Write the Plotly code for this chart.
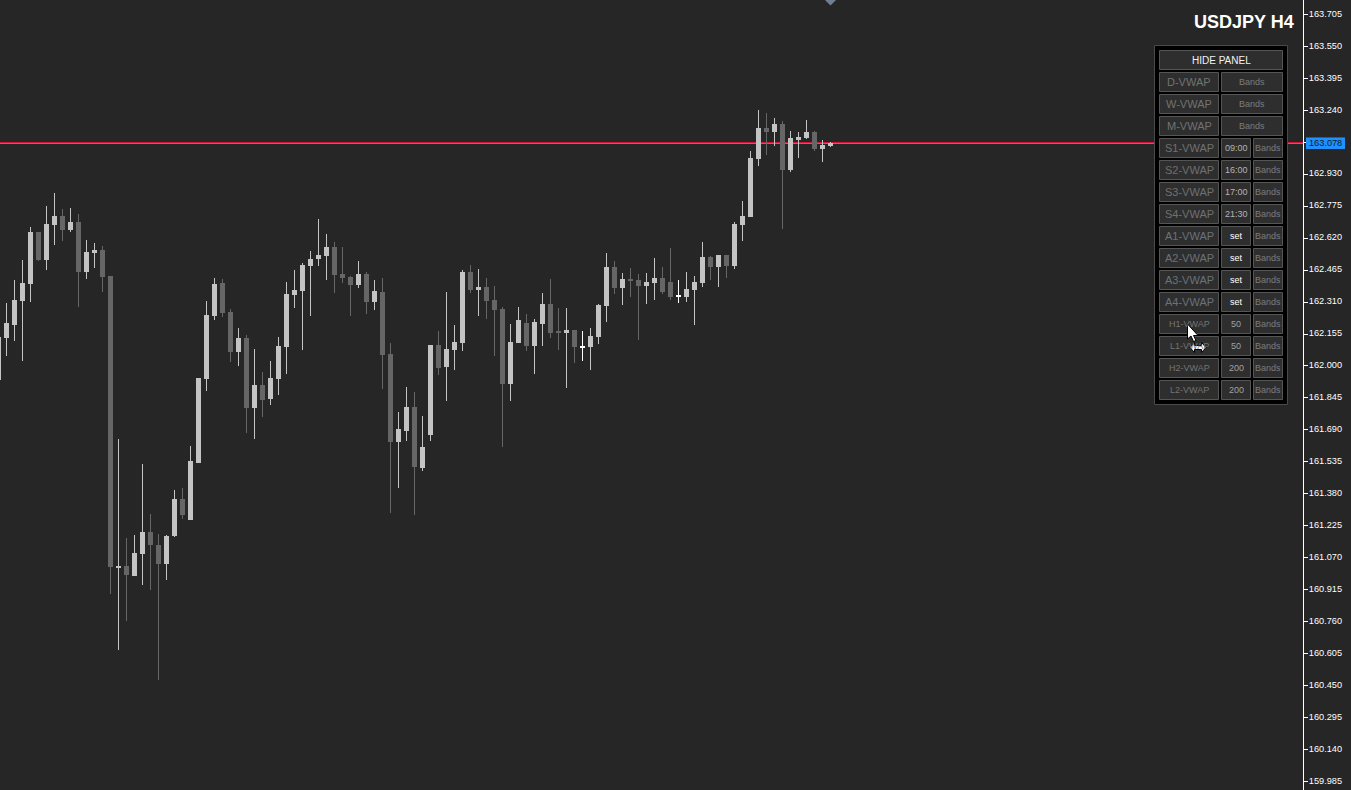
import plotly.graph_objects as go

symbol_title = "USDJPY H4"
last_price_label = "163.078"

price_ticks = [163.705, 163.550, 163.395, 163.240, 163.085, 162.930, 162.775, 162.620, 162.465,
               162.310, 162.155, 162.000, 161.845, 161.690, 161.535, 161.380, 161.225, 161.070,
               160.915, 160.760, 160.605, 160.450, 160.295, 160.140, 159.985]

ask_price = 163.084
bid_price = 163.079

high = [162.150, 162.305, 162.417, 162.514, 162.674, 162.650, 162.776, 162.839, 162.761, 162.766,
        162.737, 162.611, 162.596, 162.582, 162.437, 161.646, 161.166, 161.180, 161.525, 161.282,
        161.185, 161.180, 161.398, 161.408, 161.612, 161.942, 162.315, 162.427, 162.422, 162.276,
        162.184, 162.150, 162.082, 161.971, 162.024, 162.141, 162.407, 162.466, 162.499, 162.558,
        162.713, 162.640, 162.601, 162.577, 162.437, 162.509, 162.456, 162.417, 162.427, 162.112,
        161.777, 161.898, 161.874, 161.757, 162.102, 162.170, 162.359, 162.199, 162.466, 162.490,
        162.470, 162.427, 162.388, 162.286, 162.204, 162.286, 162.252, 162.228, 162.354, 162.422,
        162.281, 162.281, 162.175, 162.170, 162.184, 162.301, 162.548, 162.509, 162.451, 162.475,
        162.446, 162.451, 162.524, 162.480, 162.572, 162.417, 162.456, 162.437, 162.601, 162.534,
        162.538, 162.538, 162.698, 162.800, 163.043, 163.241, 163.227, 163.203, 163.188, 163.140,
        163.135, 163.193, 163.140, 163.096, 163.086]

low = [161.932, 162.048, 162.121, 162.024, 162.310, 162.509, 162.466, 162.587, 162.606, 162.650,
       162.286, 162.422, 162.475, 162.359, 160.894, 160.622, 160.763, 160.981, 160.938, 160.913,
       160.477, 160.962, 161.171, 161.258, 161.253, 161.529, 161.879, 162.223, 162.237, 162.019,
       162.000, 161.675, 161.646, 161.753, 161.811, 161.859, 161.961, 162.281, 162.077, 162.242,
       162.485, 162.417, 162.354, 162.402, 162.242, 162.378, 162.252, 162.271, 161.888, 161.287,
       161.408, 161.636, 161.277, 161.491, 161.636, 161.956, 161.830, 161.980, 162.073, 162.354,
       162.242, 162.228, 162.048, 161.607, 161.830, 162.112, 162.073, 161.961, 162.097, 162.136,
       162.077, 161.893, 162.014, 162.024, 161.980, 162.107, 162.213, 162.349, 162.296, 162.335,
       162.126, 162.301, 162.320, 162.349, 162.320, 162.305, 162.310, 162.199, 162.383, 162.417,
       162.383, 162.427, 162.470, 162.606, 162.723, 162.970, 163.023, 163.067, 162.664, 162.941,
       163.009, 163.101, 163.043, 162.989, 163.062]

open_ = [161.932, 162.136, 162.199, 162.315, 162.398, 162.650, 162.514, 162.684, 162.727, 162.659,
         162.698, 162.456, 162.548, 162.562, 162.437, 161.025, 161.030, 160.981, 161.088, 161.195,
         161.132, 161.040, 161.175, 161.355, 161.253, 161.529, 161.937, 162.242, 162.402, 162.262,
         162.068, 162.136, 161.796, 161.908, 161.840, 161.937, 162.092, 162.344, 162.364, 162.485,
         162.519, 162.534, 162.577, 162.446, 162.432, 162.393, 162.446, 162.310, 162.359, 162.058,
         161.631, 161.685, 161.801, 161.505, 161.665, 162.102, 161.995, 162.077, 162.112, 162.456,
         162.368, 162.383, 162.320, 162.276, 161.913, 162.112, 162.208, 162.097, 162.204, 162.301,
         162.165, 162.160, 162.175, 162.092, 162.092, 162.141, 162.291, 162.480, 162.378, 162.422,
         162.417, 162.388, 162.402, 162.427, 162.407, 162.335, 162.335, 162.368, 162.402, 162.529,
         162.480, 162.538, 162.485, 162.684, 162.723, 163.004, 163.154, 163.135, 163.174, 162.951,
         163.096, 163.106, 163.135, 163.052, 163.067]

close = [162.141, 162.208, 162.320, 162.402, 162.650, 162.514, 162.689, 162.727, 162.659, 162.698,
         162.456, 162.553, 162.562, 162.432, 161.025, 161.030, 160.986, 161.093, 161.195, 161.132,
         161.040, 161.175, 161.355, 161.277, 161.539, 161.942, 162.247, 162.398, 162.257, 162.068,
         162.136, 161.796, 161.908, 161.835, 161.942, 162.097, 162.349, 162.368, 162.490, 162.519,
         162.538, 162.577, 162.441, 162.427, 162.393, 162.446, 162.310, 162.364, 162.053, 161.631,
         161.694, 161.801, 161.510, 161.607, 162.102, 161.990, 162.082, 162.116, 162.456, 162.368,
         162.383, 162.315, 162.271, 161.913, 162.116, 162.223, 162.097, 162.213, 162.301, 162.160,
         162.160, 162.175, 162.092, 162.097, 162.145, 162.296, 162.480, 162.378, 162.422, 162.412,
         162.388, 162.407, 162.427, 162.359, 162.335, 162.340, 162.373, 162.407, 162.529, 162.480,
         162.538, 162.485, 162.689, 162.727, 163.009, 163.154, 163.135, 163.174, 162.951, 163.106,
         163.111, 163.135, 163.052, 163.072, 163.081]

# Bars whose open equals close (drawn in pure white by the terminal).
flat_bars = [73, 85]

full_rows = ["D-VWAP", "W-VWAP", "M-VWAP"]
session_rows = ["S1-VWAP", "S2-VWAP", "S3-VWAP", "S4-VWAP"]
session_times = ["09:00", "16:00", "17:00", "21:30"]
anchor_rows = ["A1-VWAP", "A2-VWAP", "A3-VWAP", "A4-VWAP"]
period_rows = ["H1-VWAP", "L1-VWAP", "H2-VWAP", "L2-VWAP"]
periods = ["50", "50", "200", "200"]

BG = "#262626"
UP = "#c4c4c4"
DOWN = "#666666"
W, H = 1351, 790
PW = 1303  # plot width
FONT = "Liberation Sans"

X = lambda px: px / PW
Y = lambda py: 1 - py / H

idx = list(range(len(close)))
colors = [("#ffffff" if i in flat_bars else (UP if c > o else DOWN))
          for i, o, c in zip(idx, open_, close)]

fig = go.Figure()
fig.add_trace(go.Bar(x=idx, base=low, y=[h - l for h, l in zip(high, low)], width=0.125,
                     marker=dict(color=colors, line=dict(width=0)), hoverinfo="skip", showlegend=False))
fig.add_trace(go.Bar(x=idx, base=[min(o, c) for o, c in zip(open_, close)],
                     y=[abs(o - c) for o, c in zip(open_, close)], width=0.625,
                     marker=dict(color=colors, line=dict(width=0)), hoverinfo="skip", showlegend=False))

shapes = []
annos = []


def rect(x0, y0, x1, y1, fill, line, lw=1):
    shapes.append(dict(type="rect", xref="paper", yref="paper", x0=X(x0), x1=X(x1), y0=Y(y0), y1=Y(y1),
                       fillcolor=fill, line=dict(color=line, width=lw), layer="above"))


def label(cx, cy, text, size, color, bold=False, anchor="center", family=FONT):
    annos.append(dict(xref="paper", yref="paper", x=X(cx), y=Y(cy), text=f"<b>{text}</b>" if bold else text,
                      showarrow=False, xanchor=anchor, yanchor="middle", borderpad=0,
                      font=dict(family=family, size=size, color=color)))


def button(x0, y0, x1, y1, text, size, color, dy=0):
    rect(x0 + 0.5, y0 + 0.5, x1 - 0.5, y1 - 0.5, "#2e2e2e", "#555555")
    label((x0 + x1) / 2, (y0 + y1) / 2 + dy, text, size, color)


# Ask and bid lines
for price, col in ((ask_price, "#dc143c"), (bid_price, "#1e90ff")):
    shapes.append(dict(type="line", xref="paper", yref="y", x0=0, x1=1, y0=price, y1=price,
                       line=dict(color=col, width=1), layer="below"))

# Panel
rect(1154.5, 45.5, 1287.5, 404.5, "#000000", "#4a4a4a")
button(1159, 50, 1283, 70, "HIDE PANEL", 10, "#f2f2f2", dy=1)
rows = ([(n, None, "#727272", 11) for n in full_rows]
        + [(n, (t, "#b4b4b4"), "#707070", 11) for n, t in zip(session_rows, session_times)]
        + [(n, ("set", "#ffffff"), "#69727a", 11) for n in anchor_rows]
        + [(n, (p, "#a0a0a0"), "#747474", 9) for n, p in zip(period_rows, periods)])
for r, (name, mid, col, size) in enumerate(rows):
    y0 = 72 + 22 * r
    y1 = y0 + 20
    button(1159, y0, 1219, y1, name, size, col)
    if mid is None:
        button(1221, y0, 1283, y1, "Bands", 9, "#7c7c7c")
    else:
        button(1221, y0, 1251, y1, mid[0], 9, mid[1])
        button(1253, y0, 1283, y1, "Bands", 9, "#7c7c7c")

# Title
label(1295, 22, symbol_title, 18, "#ffffff", bold=True, anchor="right")

# Price tag
rect(1306, 137, 1345, 149, "#1e90ff", "#1e90ff", 0)
rect(1306, 137, 1345, 138, "#dc143c", "#dc143c", 0)
label(1325.5, 143.5, last_price_label, 9.2, "#0c1c2a")

# Chart-shift marker
shapes.append(dict(type="path", xref="paper", yref="paper", fillcolor="#708090", line=dict(width=0),
                   path=f"M{X(825)},{Y(0)} L{X(836)},{Y(0)} L{X(830.5)},{Y(5.5)} Z"))


def poly(points, fill, line):
    d = "M" + " L".join(f"{X(a)},{Y(b)}" for a, b in points) + " Z"
    shapes.append(dict(type="path", xref="paper", yref="paper", path=d, fillcolor=fill,
                       line=dict(color=line, width=1), layer="above"))


# Mouse pointers
poly([(1187.5, 324), (1187.5, 339), (1191, 336), (1193.5, 341.5), (1196, 340.5), (1193.5, 335.5), (1198, 335.5)],
     "#ffffff", "#000000")
poly([(1190, 347.5), (1194.5, 342.5), (1194.5, 345.5), (1201.5, 345.5), (1201.5, 342.5), (1206, 347.5),
      (1201.5, 352.5), (1201.5, 349.5), (1194.5, 349.5), (1194.5, 352.5)], "#ffffff", "#000000")

top_price = 163.775
bottom_price = 163.775 - 790 * 0.00485

fig.update_layout(
    width=W, height=H, margin=dict(l=0, r=W - PW, t=0, b=0, pad=0),
    paper_bgcolor=BG, plot_bgcolor=BG, barmode="overlay", showlegend=False, bargap=0,
    xaxis=dict(range=[1.5 / 8, (PW + 1.5) / 8], visible=False, fixedrange=True),
    yaxis=dict(range=[bottom_price, top_price], side="right", showgrid=False, zeroline=False,
               tickvals=price_ticks, ticktext=[f"{v:.3f}" for v in price_ticks],
               ticks="outside", ticklen=4, tickwidth=1, tickcolor="#ffffff",
               ticklabelstandoff=-1, ticklabelshift=-1,
               showline=True, linecolor="#ffffff", linewidth=1,
               tickfont=dict(family=FONT, size=9.2, color="#ffffff"), fixedrange=True),
    shapes=shapes, annotations=annos,
)

fig.write_html("out.html", config=dict(displayModeBar=False),
               post_script=f"document.body.style.margin='0';document.body.style.background='{BG}';document.body.style.overflow='hidden';")
